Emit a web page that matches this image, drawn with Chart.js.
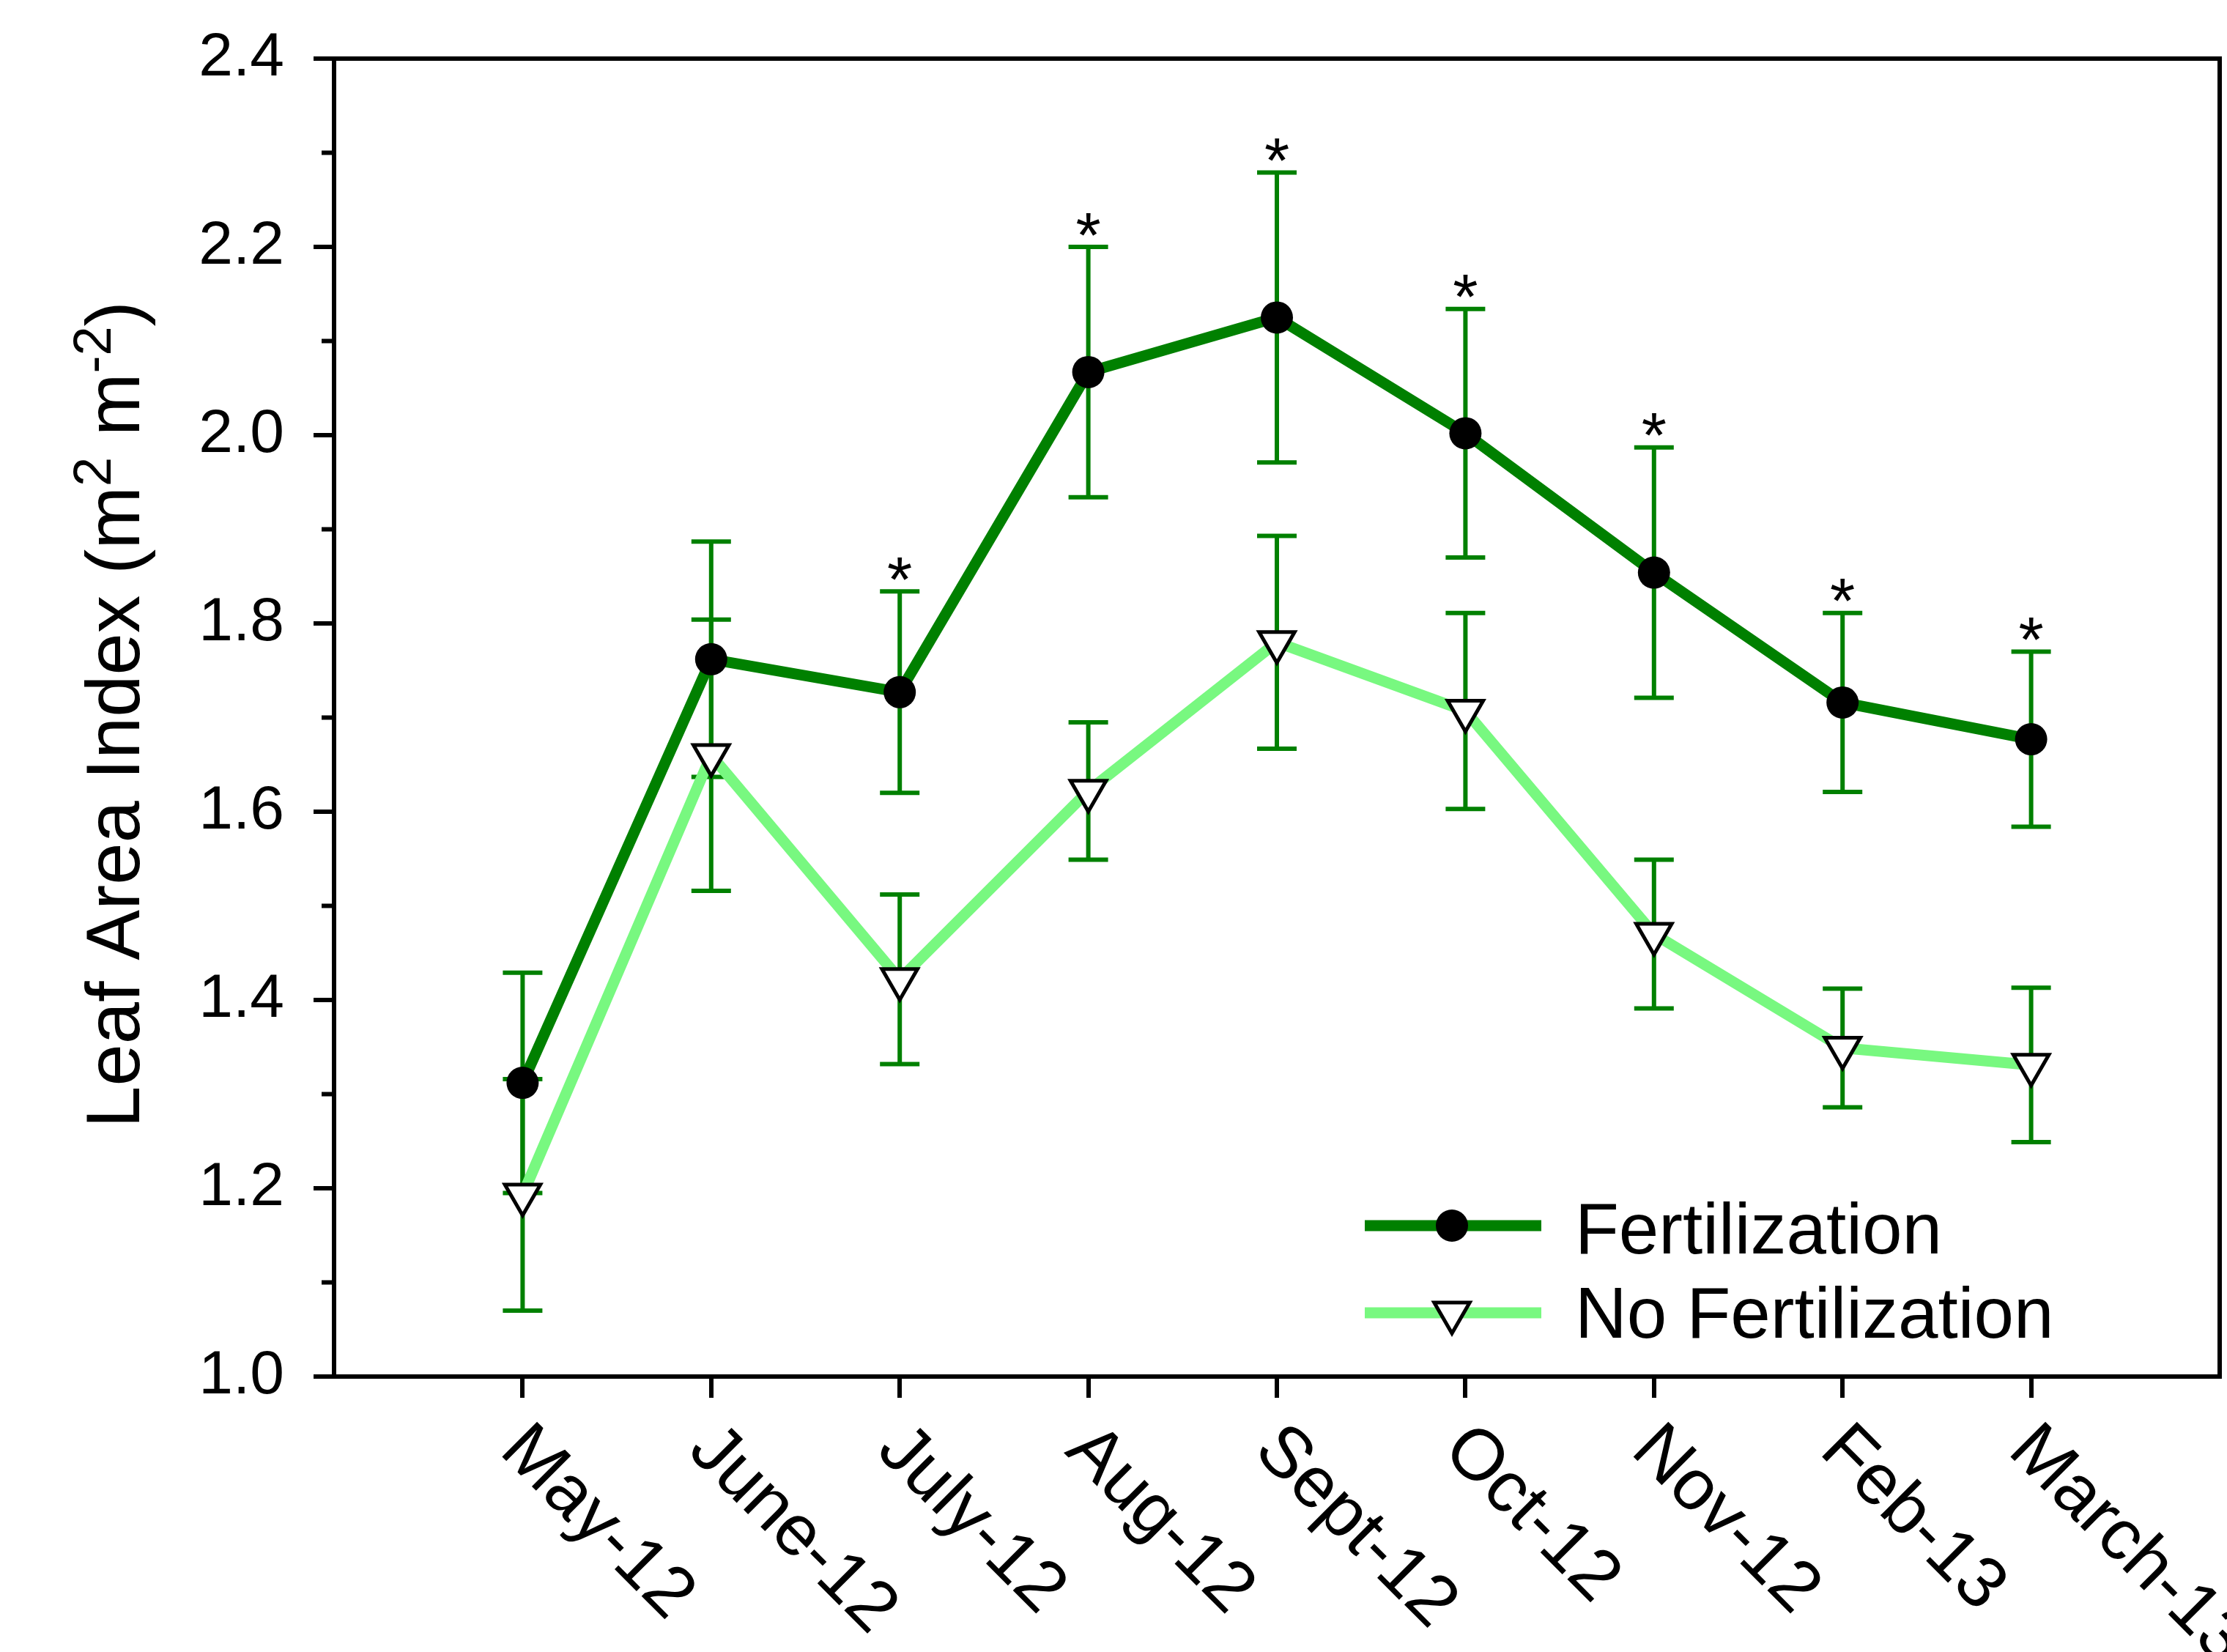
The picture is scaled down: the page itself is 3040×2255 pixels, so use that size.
<!DOCTYPE html>
<html>
<head>
<meta charset="utf-8">
<script src="https://cdn.jsdelivr.net/npm/chart.js@4.4.1/dist/chart.umd.min.js"></script>
<style>
  html, body { margin: 0; padding: 0; background: #fff; overflow: hidden; }
  #wrap { width: 3040px; height: 2255px; position: relative; }
  #chart1 { display: block; }
</style>
</head>
<body>
<div id="wrap"><canvas id="chart1"></canvas></div>
<script>
// Leaf area index per sampling month, mean and standard error
const months = ['May-12', 'June-12', 'July-12', 'Aug-12', 'Sept-12', 'Oct-12', 'Nov-12', 'Feb-13', 'March-13'];
const fert = [1.312, 1.762, 1.727, 2.067, 2.125, 2.002, 1.854, 1.716, 1.677];
const fertErr = [0.117, 0.125, 0.107, 0.133, 0.154, 0.132, 0.133, 0.095, 0.093];
const noFert = [1.193, 1.660, 1.422, 1.622, 1.780, 1.707, 1.470, 1.349, 1.331];
const noFertErr = [0.123, 0.144, 0.090, 0.073, 0.113, 0.104, 0.079, 0.063, 0.082];
// months where the difference is significant (*)
const signif = [false, false, true, true, true, true, true, true, true];
const yTicks = [1.0, 1.2, 1.4, 1.6, 1.8, 2.0, 2.2, 2.4];
const yMinor = [1.1, 1.3, 1.5, 1.7, 1.9, 2.1, 2.3];

const FONT = '"Liberation Sans", Arial, sans-serif';
const DARK = '#008000';
const LIGHT = '#78f880';

const toPoints = (vals) => vals.map((v, i) => ({ x: i + 1, y: v }));

// error bars under the lines and markers
const errorBars = {
    id: 'errorBars',
    beforeDatasetsDraw(chart) {
        const { ctx, scales: { x, y } } = chart;
        ctx.save();
        ctx.strokeStyle = DARK;
        ctx.lineWidth = 6;
        [[fert, fertErr], [noFert, noFertErr]].forEach(([vals, errs]) => {
            vals.forEach((v, i) => {
                const px = x.getPixelForValue(i + 1);
                const top = y.getPixelForValue(v + errs[i]);
                const bot = y.getPixelForValue(v - errs[i]);
                ctx.beginPath();
                ctx.moveTo(px, top); ctx.lineTo(px, bot);
                ctx.moveTo(px - 27, top); ctx.lineTo(px + 27, top);
                ctx.moveTo(px - 27, bot); ctx.lineTo(px + 27, bot);
                ctx.stroke();
            });
        });
        ctx.restore();
    }
};

// frame, minor ticks, month labels, axis title, stars, legend
const extras = {
    id: 'extras',
    afterDraw(chart) {
        const { ctx, chartArea: a, scales: { x, y } } = chart;
        ctx.save();

        // top and right frame
        ctx.strokeStyle = '#000';
        ctx.lineWidth = 6;
        ctx.beginPath();
        ctx.moveTo(a.left, a.top);
        ctx.lineTo(a.right, a.top);
        ctx.lineTo(a.right, a.bottom);
        ctx.stroke();

        // minor ticks
        ctx.beginPath();
        yMinor.forEach(v => {
            const py = y.getPixelForValue(v);
            ctx.moveTo(a.left, py);
            ctx.lineTo(a.left - 17, py);
        });
        ctx.stroke();

        // month labels, turned 45 degrees clockwise
        ctx.fillStyle = '#000';
        ctx.font = '98px ' + FONT;
        ctx.textAlign = 'left';
        ctx.textBaseline = 'top';
        months.forEach((m, i) => {
            const px = x.getPixelForValue(i + 1);
            ctx.save();
            ctx.translate(px + 20, a.bottom + 50);
            ctx.rotate(Math.PI / 4);
            ctx.fillText(m, 0, 0);
            ctx.restore();
        });

        // y axis title with superscripts
        const fs = 103;
        const parts = [
            ['Leaf Area Index (m', false], ['2', true], [' m', false], ['-2', true], [')', false]
        ];
        const fontOf = sup => (sup ? Math.round(fs * 0.7) : fs) + 'px ' + FONT;
        let total = 0;
        parts.forEach(([t, sup]) => { ctx.font = fontOf(sup); total += ctx.measureText(t).width; });
        ctx.save();
        ctx.translate(190, (a.top + a.bottom) / 2 - 4);
        ctx.rotate(-Math.PI / 2);
        ctx.textBaseline = 'alphabetic';
        let cx = -total / 2;
        parts.forEach(([t, sup]) => {
            ctx.font = fontOf(sup);
            ctx.fillText(t, cx, sup ? -fs * 0.38 : 0);
            cx += ctx.measureText(t).width;
        });
        ctx.restore();

        // significance stars above the fertilized error bar
        ctx.font = '88px ' + FONT;
        ctx.textAlign = 'center';
        ctx.textBaseline = 'alphabetic';
        const sm = ctx.measureText('*');
        const starMid = (sm.actualBoundingBoxAscent - sm.actualBoundingBoxDescent) / 2;
        signif.forEach((s, i) => {
            if (!s) return;
            const px = x.getPixelForValue(i + 1);
            const top = y.getPixelForValue(fert[i] + fertErr[i]);
            ctx.fillText('*', px, top - 31 + starMid);
        });

        // legend
        const rows = [
            { label: 'Fertilization', ds: chart.data.datasets[0], y: 1673, base: 1711 },
            { label: 'No Fertilization', ds: chart.data.datasets[1], y: 1792, base: 1826 }
        ];
        rows.forEach(r => {
            ctx.strokeStyle = r.ds.borderColor;
            ctx.lineWidth = r.ds.borderWidth;
            ctx.beginPath();
            ctx.moveTo(1863, r.y);
            ctx.lineTo(2104, r.y);
            ctx.stroke();
            ctx.fillStyle = r.ds.pointBackgroundColor;
            ctx.strokeStyle = r.ds.pointBorderColor;
            ctx.lineWidth = r.ds.pointBorderWidth;
            Chart.helpers.drawPoint(ctx, {
                pointStyle: r.ds.pointStyle,
                radius: r.ds.pointRadius,
                rotation: r.ds.pointRotation || 0,
                borderWidth: r.ds.pointBorderWidth
            }, 1982, r.y);
            ctx.fillStyle = '#000';
            ctx.font = '98px ' + FONT;
            ctx.textAlign = 'left';
            ctx.textBaseline = 'alphabetic';
            ctx.fillText(r.label, 2150, r.base);
        });

        ctx.restore();
    }
};

const data = {
    datasets: [
        {
            label: 'Fertilization',
            data: toPoints(fert),
            borderColor: DARK,
            borderWidth: 15,
            pointStyle: 'circle',
            pointRadius: 22,
            pointBackgroundColor: '#000',
            pointBorderColor: '#000',
            pointBorderWidth: 0,
            order: 0
        },
        {
            label: 'No Fertilization',
            data: toPoints(noFert),
            borderColor: LIGHT,
            borderWidth: 15,
            pointStyle: 'triangle',
            pointRotation: 180,
            pointRadius: 28,
            pointBackgroundColor: '#fff',
            pointBorderColor: '#000',
            pointBorderWidth: 5,
            order: 1
        }
    ]
};

const options = {
    responsive: true,
    maintainAspectRatio: false,
    animation: false,
    events: [],
    layout: { autoPadding: false, padding: { top: 80, right: 10, left: 0, bottom: 0 } },
    plugins: {
        legend: { display: false },
        tooltip: { enabled: false }
    },
    scales: {
        x: {
            type: 'linear',
            min: 0,
            max: 10,
            afterBuildTicks: s => { s.ticks = months.map((m, i) => ({ value: i + 1 })); },
            afterFit: s => { s.height = 376; },
            ticks: { display: false },
            grid: { drawOnChartArea: false, drawTicks: true, tickLength: 29, color: '#000', lineWidth: 6 },
            border: { display: true, color: '#000', width: 6 }
        },
        y: {
            min: 1.0,
            max: 2.4,
            afterBuildTicks: s => { s.ticks = yTicks.map(v => ({ value: v })); },
            afterFit: s => { s.width = 456; },
            ticks: {
                color: '#000',
                font: { family: FONT, size: 84, lineHeight: 0.6 },
                padding: 40,
                callback: v => Number(v).toFixed(1)
            },
            grid: { drawOnChartArea: false, drawTicks: true, tickLength: 28, color: '#000', lineWidth: 6 },
            border: { display: true, color: '#000', width: 6 }
        }
    }
};

const ctx = document.getElementById('chart1').getContext('2d');
const myChart = new Chart(ctx, {
    type: 'line',
    data: data,
    options: options,
    plugins: [errorBars, extras]
});
</script>
</body>
</html>
